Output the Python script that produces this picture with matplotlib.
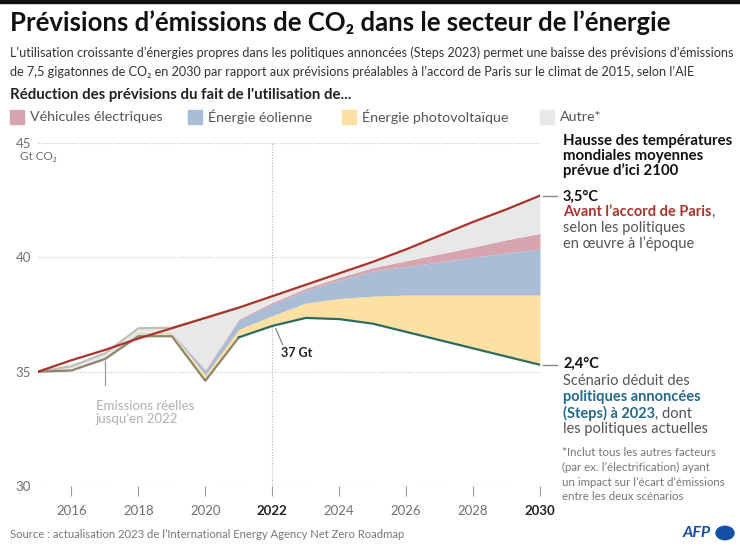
import matplotlib
matplotlib.use("Agg")
import matplotlib.pyplot as plt
from matplotlib.patches import Rectangle, Circle
import numpy as np

plt.rcParams['font.family'] = ['Lato', 'DejaVu Sans']

# ---------------- data ----------------
years = [2015, 2016, 2017, 2018, 2019, 2020, 2021, 2022, 2023, 2024, 2025, 2026, 2027, 2028, 2029, 2030]
# pre-Paris forecast (Gt CO2)
pre_paris = [35.0, 35.5, 35.95, 36.45, 36.9, 37.35, 37.8, 38.3, 38.8, 39.3, 39.8, 40.35, 40.95, 41.55, 42.1, 42.7]
# actual emissions to 2022, then STEPS 2023 scenario
steps = [35.0, 35.05, 35.55, 36.55, 36.55, 34.6, 36.5, 37.0, 37.35, 37.3, 37.1, 36.74, 36.38, 36.02, 35.66, 35.3]
# reductions (Gt CO2) by driver
solar = [0.0, 0.05, 0.08, 0.14, 0.14, 0.25, 0.35, 0.45, 0.65, 0.9, 1.2, 1.61, 1.97, 2.33, 2.69, 3.05]
wind = [0.0, 0.02, 0.03, 0.03, 0.03, 0.2, 0.4, 0.5, 0.55, 0.8, 1.1, 1.25, 1.45, 1.65, 1.85, 2.0]
ev = [0.0, 0.0, 0.0, 0.0, 0.0, 0.05, 0.05, 0.08, 0.1, 0.12, 0.15, 0.25, 0.35, 0.45, 0.57, 0.7]
other = [0.0, 0.12, 0.14, 0.18, 0.2, 2.25, 0.5, 0.27, 0.15, 0.18, 0.25, 0.5, 0.8, 1.1, 1.33, 1.65]

legend_labels = ["Véhicules électriques", "Énergie éolienne", "Énergie photovoltaïque", "Autre*"]
x_ticks = [2016, 2018, 2020, 2022, 2024, 2026, 2028, 2030]
y_ticks = [30, 35, 40, 45]

# ---------------- style ----------------
C_EV = "#d7a5b0"
C_WIND = "#a9bdd6"
C_SOLAR = "#fde1a3"
C_OTHER = "#e8e8e8"
C_RED = "#a8342b"
C_TEAL = "#2b6b64"
C_TEAL_TXT = "#25698a"
C_HIST = "#8c8670"
C_GREY = "#6f6f6f"

W, H = 740, 550
fig = plt.figure(figsize=(W / 100, H / 100), dpi=100)
fig.patch.set_facecolor("white")


def fx(x):
    return x / W


def fy(y):
    return 1 - y / H


def ftext(x, y, s, **kw):
    kw.setdefault("va", "center")
    return fig.text(fx(x), fy(y), s, **kw)


# top black bar
fig.patches.append(Rectangle((0, fy(3)), 1, 3 / H, transform=fig.transFigure, color="#111111"))

# ---------------- axes ----------------
ax = fig.add_axes([fx(38), fy(486), fx(540) - fx(38), fy(143) - fy(486)])
ax.set_xlim(2015, 2030)
ax.set_ylim(30, 45)
for s in ax.spines.values():
    s.set_visible(False)

yrs = np.array(years, dtype=float)
b0 = np.array(steps)
b1 = b0 + np.array(solar)
b2 = b1 + np.array(wind)
b3 = b2 + np.array(ev)
b4 = b3 + np.array(other)

for yt in y_ticks:
    ax.axhline(yt, color="#c9c9c9", lw=0.8, ls=(0, (1, 1.5)), zorder=0)
ax.axvline(2022, color="#b5b5b5", lw=0.8, ls=(0, (1, 1.5)), zorder=0)

ax.fill_between(yrs, b0, b1, color=C_SOLAR, lw=0, zorder=1)
ax.fill_between(yrs, b1, b2, color=C_WIND, lw=0, zorder=1)
ax.fill_between(yrs, b2, b3, color=C_EV, lw=0, zorder=1)
ax.fill_between(yrs, b3, b4, color=C_OTHER, lw=0, zorder=1)

# historical outline
ax.plot(yrs[:7], b4[:7], color="#c4bfb4", lw=1.6, zorder=2, solid_joinstyle="miter")
ax.plot(yrs[:7], b0[:7], color=C_HIST, lw=1.6, zorder=3)
ax.plot(yrs[6:], b0[6:], color=C_TEAL, lw=1.6, zorder=3)
ax.plot(yrs, pre_paris, color=C_RED, lw=1.6, zorder=4)

ax.set_xticks(x_ticks)
ax.set_xticklabels([str(t) for t in x_ticks])
ax.set_yticks(y_ticks)
ax.set_yticklabels([str(t) for t in y_ticks])
ax.tick_params(axis="x", length=7, width=0.8, color="#9a9a9a", pad=7, labelsize=9.5, labelcolor=C_GREY)
ax.tick_params(axis="y", length=0, pad=5, labelsize=9.5, labelcolor=C_GREY)
for lab in ax.get_xticklabels():
    if lab.get_text() in ("2022", "2030"):
        lab.set_fontweight("bold")
        lab.set_color("#222222")

# right-side markers
ax.plot([2030.1, 2030.5], [pre_paris[-1], pre_paris[-1]], color="#888888", lw=1, clip_on=False)
ax.plot([2030.1, 2030.5], [steps[-1], steps[-1]], color="#888888", lw=1, clip_on=False)

# 37 Gt annotation
ax.annotate("37 Gt", xy=(2022.1, steps[7] - 0.1), xytext=(2022.25, steps[7] - 1.2),
            fontsize=9, fontweight="bold", color="#222222", va="center", ha="left",
            arrowprops=dict(arrowstyle="-", color="#777777", lw=0.8, shrinkA=0, shrinkB=0,
                            relpos=(0.1, 1.0)))

# emissions réelles annotation
ax.plot([2017, 2017], [steps[2] - 0.08, 34.4], color="#9a9a9a", lw=0.9)
ax.text(2016.72, 33.75, "Emissions réelles\njusqu’en 2022", fontsize=9.5, color="#b0b0b0",
        va="top", ha="left", linespacing=1.0)

# ---------------- texts ----------------
ftext(10, 23, "Prévisions d’émissions de CO₂ dans le secteur de l’énergie", fontsize=18.5,
      fontweight="bold", color="#111111")
ftext(10, 53, "L’utilisation croissante d’énergies propres dans les politiques annoncées (Steps 2023) "
      "permet une baisse des prévisions d’émissions", fontsize=9.1, color="#333333")
ftext(10, 72, "de 7,5 gigatonnes de CO₂ en 2030 par rapport aux prévisions préalables à l’accord de "
      "Paris sur le climat de 2015, selon l’AIE", fontsize=9.1, color="#333333")
ftext(10, 95, "Réduction des prévisions du fait de l'utilisation de...", fontsize=10.8,
      fontweight="bold", color="#222222")

leg_x = [10, 188, 342, 540]
leg_c = [C_EV, C_WIND, C_SOLAR, C_OTHER]
for lx, lc, ll in zip(leg_x, leg_c, legend_labels):
    fig.patches.append(Rectangle((fx(lx), fy(124)), 14 / W, 14 / H, transform=fig.transFigure,
                                 color=lc))
    ftext(lx + 20, 117, ll, fontsize=10.3, color="#555555")

ftext(20, 157, "Gt CO₂", fontsize=8.5, color=C_GREY)

for i, line in enumerate(["Hausse des températures", "mondiales moyennes", "prévue d’ici 2100"]):
    ftext(563, 141 + 15 * i, line, fontsize=10.8, fontweight="bold", color="#111111")
ftext(563, 197, "3,5°C", fontsize=10.5, fontweight="bold", color="#111111")
t1 = ftext(563, 212, "Avant l’accord de Paris", fontsize=10.5, fontweight="bold", color=C_RED)
plt.annotate(",", xy=(1, 0), xycoords=t1, va="bottom", ha="left", fontsize=10.5, color="#555555")
ftext(563, 228, "selon les politiques", fontsize=10.5, color="#555555")
ftext(563, 244, "en œuvre à l’époque", fontsize=10.5, color="#555555")

ftext(563, 364, "2,4°C", fontsize=10.5, fontweight="bold", color="#111111")
ftext(563, 381, "Scénario déduit des", fontsize=10.5, color="#555555")
ftext(563, 397, "politiques annoncées", fontsize=10.5, fontweight="bold", color=C_TEAL_TXT)
t2 = ftext(563, 413, "(Steps) à 2023", fontsize=10.5, fontweight="bold", color=C_TEAL_TXT)
plt.annotate(", dont", xy=(1, 0), xycoords=t2, va="bottom", ha="left", fontsize=10.5, color="#555555")
ftext(563, 429, "les politiques actuelles", fontsize=10.5, color="#555555")

for i, line in enumerate(["*Inclut tous les autres facteurs", "(par ex. l’électrification) ayant",
                          "un impact sur l’écart d’émissions", "entre les deux scénarios"]):
    ftext(562, 453 + 14.5 * i, line, fontsize=8.3, color="#777777")

ftext(10, 535, "Source : actualisation 2023 de l’International Energy Agency Net Zero Roadmap",
      fontsize=8.1, color="#777777")

# AFP logo
ftext(683, 533, "AFP", fontsize=11.5, fontweight="bold", style="italic", color="#1250a6")
fig.patches.append(Circle((fx(725), fy(533)), 9 / W, transform=fig.transFigure, color="#1250a6"))

fig.savefig("out.png", dpi=100)
